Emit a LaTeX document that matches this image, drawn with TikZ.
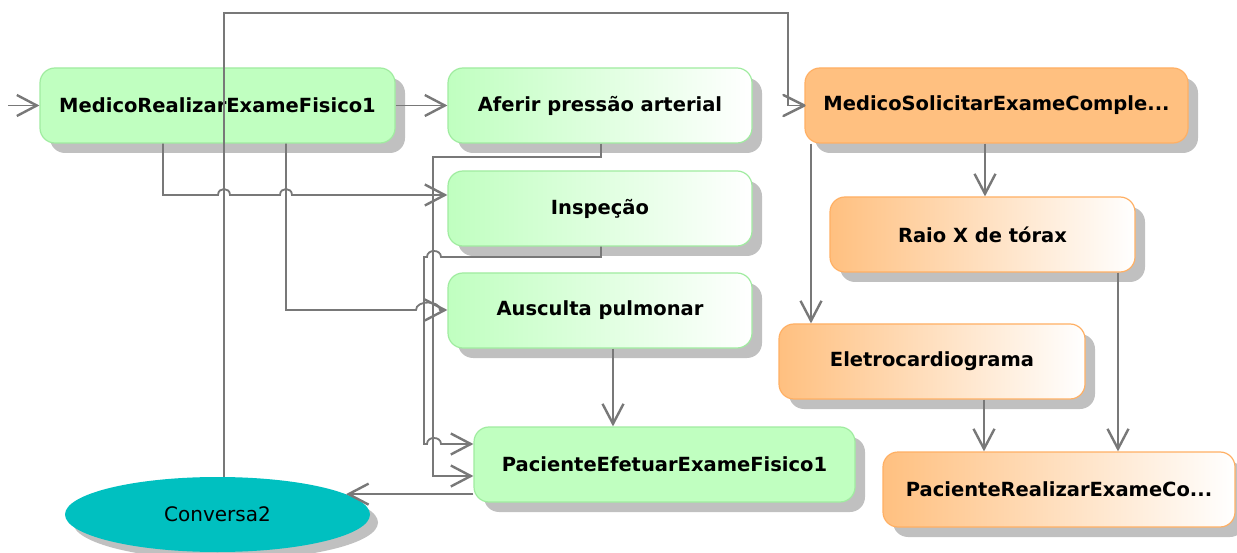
\documentclass[tikz,border=0pt]{standalone}
\usepackage{fontspec}
\setmainfont{DejaVu Sans}
\usetikzlibrary{arrows.meta,shapes.geometric,shadows}
\definecolor{ggreen}{RGB}{192,255,192}
\definecolor{gborder}{RGB}{160,236,160}
\definecolor{ocol}{RGB}{255,192,128}
\definecolor{oborder}{RGB}{255,176,100}
\definecolor{tealc}{RGB}{0,192,192}
\definecolor{shadowc}{RGB}{192,192,192}
\definecolor{linec}{RGB}{120,120,120}
\begin{document}
\begin{tikzpicture}[x=1pt,y=-1pt,
  box/.style={rounded corners=15pt, minimum height=75pt, inner sep=0pt,
    font=\fontsize{19.5}{22}\selectfont\bfseries,
    drop shadow={shadow xshift=10pt,shadow yshift=-10pt,fill=shadowc,opacity=1}},
  gsolid/.style={box, fill=ggreen, draw=gborder, line width=1.2pt},
  ggrad/.style={box, left color=ggreen, right color=white, draw=gborder, line width=1.2pt},
  osolid/.style={box, fill=ocol, draw=oborder, line width=1.2pt},
  ograd/.style={box, left color=ocol, right color=white, draw=oborder, line width=1.2pt},
  wire/.style={draw=linec, line width=1.8pt},
  barb/.style={draw=linec, line width=2.4pt, line cap=round, line join=round},
  conn/.style={wire, -{Straight Barb[length=20pt,width=21pt,line width=2.4pt]}}
  ]
\useasboundingbox (0,0) rectangle (1237,553);
\fill[white] (0,0) rectangle (1237,553);

\node[gsolid, minimum width=355pt] (mre) at (217.5,105.5) {MedicoRealizarExameFisico1};
\node[ggrad, minimum width=304pt] (afe) at (600,105.5) {Aferir pressão arterial};
\node[ggrad, minimum width=304pt] (ins) at (600,208.5) {Inspeção};
\node[ggrad, minimum width=304pt] (aus) at (600,310.5) {Ausculta pulmonar};
\node[gsolid, minimum width=381pt] (pef) at (664.5,464.5) {PacienteEfetuarExameFisico1};
\node[osolid, minimum width=383pt] (msol) at (996.5,105.5) {MedicoSolicitarExameComple...};
\node[ograd, minimum width=305pt] (rx) at (982.5,234.5) {Raio X de tórax};
\node[ograd, minimum width=306pt] (ecg) at (932,361.5) {Eletrocardiograma};
\node[ograd, minimum width=352pt] (pre) at (1059,489.5) {PacienteRealizarExameCo...};
\node[ellipse, fill=tealc, minimum width=305pt, minimum height=75pt, inner sep=0pt,
  font=\fontsize{20}{24}\selectfont,
  drop shadow={shadow xshift=8pt,shadow yshift=-8pt,fill=shadowc,opacity=1}] (conv) at (217.5,514.5) {Conversa2};

\coordinate (in0) at (8,105.5);
\draw[conn] (in0) -- (mre.west);
\draw[conn] (mre.east) -- (afe.west);
\draw[wire] (224,0 |- conv.north) -- (224,13) -- (788,13) |- (msol.west);
\draw[barb] (msol.west) ++(-21,-10.5) -- (msol.west) -- ++(-21,10.5);
\draw[conn] (163,0 |- mre.south) -- (163,195) -- (218,195)
  .. controls (218,187) and (230,187) .. (230,195) -- (280,195)
  .. controls (280,187) and (292,187) .. (292,195) -- (ins.west |- 0,195);
\draw[conn] (286,0 |- mre.south) -- (286,310) -- (416,310)
  .. controls (416,300) and (440,300) .. (440,310) -- (aus.west |- 0,310);
\draw[conn] (601,0 |- afe.south) -- (601,157) -- (433,157) -- (433,476) -- (pef.west |- 0,476);
\draw[conn] (601,0 |- ins.south) -- (601,257) -- (441,257)
  .. controls (441,249) and (427,249) .. (427,257) -- (424,257) -- (424,444) -- (427,444)
  .. controls (427,436) and (441,436) .. (441,444) -- (pef.west |- 0,444);
\draw[conn] (613,0 |- aus.south) -- (613,0 |- pef.north);
\draw[conn] (pef.west |- conv.9) -- (conv.9);
\draw[conn] (985,0 |- msol.south) -- (985,0 |- rx.north);
\draw[conn] (811,0 |- msol.south) -- (811,0 |- ecg.north);
\draw[conn] (1118,0 |- rx.south) -- (1118,0 |- pre.north);
\draw[conn] (984,0 |- ecg.south) -- (984,0 |- pre.north);
\end{tikzpicture}
\end{document}
